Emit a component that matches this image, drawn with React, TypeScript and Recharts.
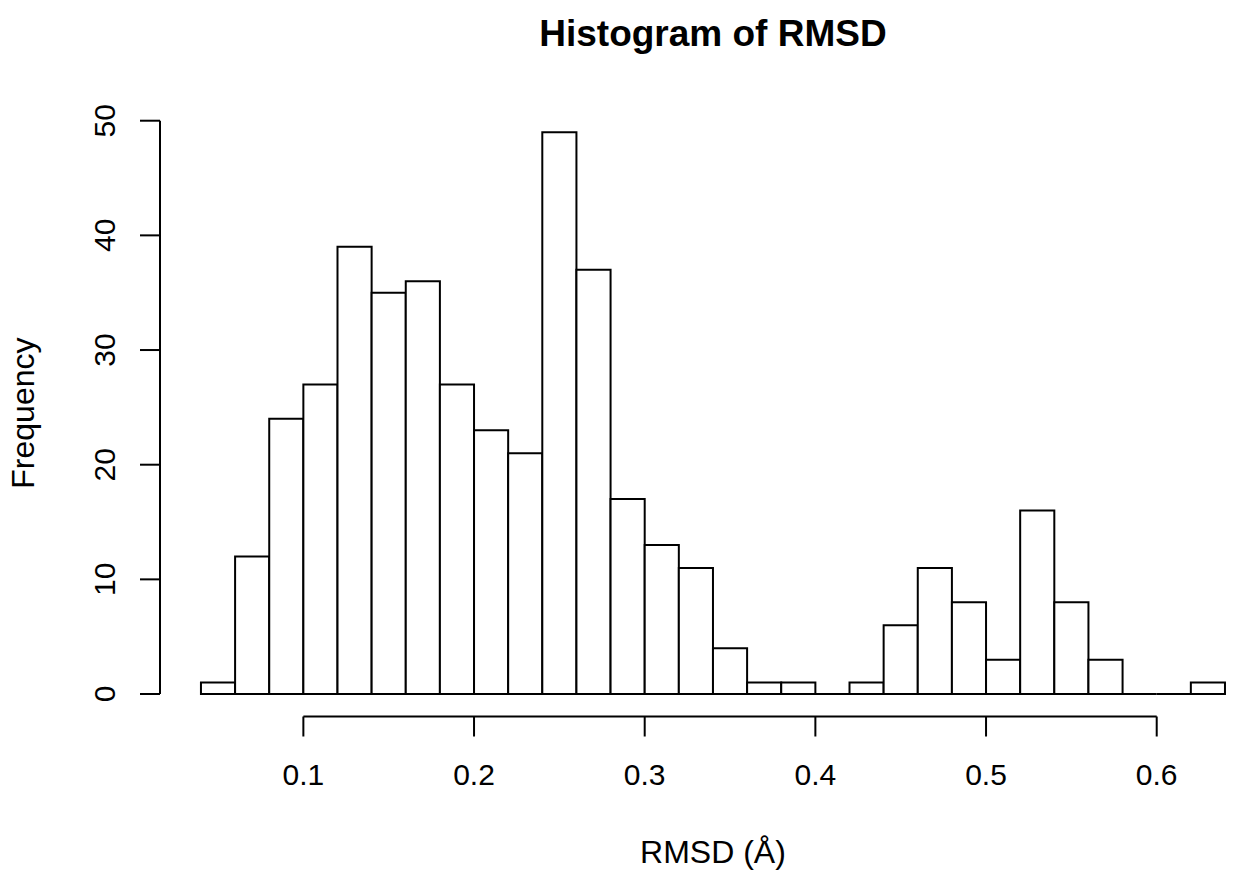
import React from 'react';
import { ComposedChart, XAxis, YAxis, ReferenceArea, ReferenceLine } from 'recharts';

const binLower = [0.04, 0.06, 0.08, 0.10, 0.12, 0.14, 0.16, 0.18, 0.20, 0.22, 0.24, 0.26, 0.28, 0.30, 0.32, 0.34, 0.36, 0.38, 0.40, 0.42, 0.44, 0.46, 0.48, 0.50, 0.52, 0.54, 0.56, 0.58, 0.60, 0.62];
const binUpper = [0.06, 0.08, 0.10, 0.12, 0.14, 0.16, 0.18, 0.20, 0.22, 0.24, 0.26, 0.28, 0.30, 0.32, 0.34, 0.36, 0.38, 0.40, 0.42, 0.44, 0.46, 0.48, 0.50, 0.52, 0.54, 0.56, 0.58, 0.60, 0.62, 0.64];
const frequency = [1, 12, 24, 27, 39, 35, 36, 27, 23, 21, 49, 37, 17, 13, 11, 4, 1, 1, 0, 1, 6, 11, 8, 3, 16, 8, 3, 0, 0, 1];
const xTicks = [0.1, 0.2, 0.3, 0.4, 0.5, 0.6];
const yTicks = [0, 10, 20, 30, 40, 50];
const titleText = 'Histogram of RMSD';
const xLabelText = 'RMSD (Å)';
const yLabelText = 'Frequency';

const W = 1233;
const H = 873;
const FONT = "'Liberation Sans', Arial, Helvetica, sans-serif";
const X_DOMAIN: [number, number] = [0.016, 0.6447];
const Y_DOMAIN: [number, number] = [-1.96, 50.96];
const MARGIN = { top: 109.7, right: 0, bottom: 16.5, left: 0 };
const Y_AXIS_W = 160;
const X_AXIS_H = 140;
const PLOT_LEFT = MARGIN.left + Y_AXIS_W;
const PLOT_RIGHT_R = 1265.9; // right edge of the original plot region (centre reference)
const PLOT_CX = (PLOT_LEFT + PLOT_RIGHT_R) / 2;
const PLOT_TOP = MARGIN.top;
const PLOT_BOTTOM = H - MARGIN.bottom - X_AXIS_H;
const PLOT_CY = (PLOT_TOP + PLOT_BOTTOM) / 2;

const bins = binLower.map((lo, i) => ({ lo, hi: binUpper[i], mid: (lo + binUpper[i]) / 2, count: frequency[i] }));

const XTick = (props: any) => {
  const { x, payload } = props;
  return (
    <text x={x} y={PLOT_BOTTOM + 68.5} textAnchor="middle" fontFamily={FONT} fontSize={30} fill="#000">
      {String(payload.value)}
    </text>
  );
};

const YTick = (props: any) => {
  const { y, payload } = props;
  const bx = PLOT_LEFT - 45.5;
  return (
    <g transform={`translate(${bx},${y}) rotate(-90)`}>
      <text x={0} y={0} textAnchor="middle" fontFamily={FONT} fontSize={30} fill="#000">
        {String(payload.value)}
      </text>
    </g>
  );
};

const XLabel = () => (
  <text x={PLOT_CX} y={PLOT_BOTTOM + 146} textAnchor="middle" fontFamily={FONT} fontSize={32} fill="#000">
    {xLabelText}
  </text>
);

const YLabel = () => (
  <g transform={`translate(${34},${PLOT_CY}) rotate(-90)`}>
    <text x={0} y={0} textAnchor="middle" fontFamily={FONT} fontSize={32} fill="#000">
      {yLabelText}
    </text>
  </g>
);

export default function App() {
  return (
    <div style={{ position: 'absolute', left: 0, top: 0, width: W, height: H, background: '#fff', overflow: 'hidden' }}>
      <ComposedChart width={W} height={H} data={bins} margin={MARGIN}>
        <XAxis
          type="number"
          dataKey="mid"
          domain={X_DOMAIN}
          allowDataOverflow
          ticks={xTicks}
          interval={0}
          height={X_AXIS_H}
          axisLine={false}
          tickSize={20}
          tickLine={{ stroke: '#000', strokeWidth: 2 }}
          tick={<XTick />}
          label={{ value: xLabelText, content: () => <XLabel /> }}
        />
        <YAxis
          type="number"
          dataKey="count"
          domain={Y_DOMAIN}
          allowDataOverflow
          ticks={yTicks}
          interval={0}
          width={Y_AXIS_W}
          axisLine={false}
          tickSize={20}
          tickLine={{ stroke: '#000', strokeWidth: 2 }}
          tick={<YTick />}
          label={{ value: yLabelText, content: () => <YLabel /> }}
        />
        {bins.map((b, i) =>
          b.count > 0 ? (
            <ReferenceArea
              key={`bar-${i}`}
              x1={b.lo}
              x2={b.hi}
              y1={0}
              y2={b.count}
              fill="#ffffff"
              fillOpacity={1}
              stroke="#000"
              strokeWidth={2}
              strokeOpacity={1}
              ifOverflow="visible"
            />
          ) : (
            <ReferenceLine
              key={`zero-${i}`}
              segment={[{ x: b.lo, y: 0 }, { x: b.hi, y: 0 }]}
              stroke="#000"
              strokeWidth={2}
              ifOverflow="visible"
            />
          )
        )}
        <ReferenceLine
          segment={[{ x: xTicks[0], y: Y_DOMAIN[0] }, { x: xTicks[xTicks.length - 1], y: Y_DOMAIN[0] }]}
          stroke="#000"
          strokeWidth={2}
          ifOverflow="visible"
        />
        <ReferenceLine
          segment={[{ x: X_DOMAIN[0], y: yTicks[0] }, { x: X_DOMAIN[0], y: yTicks[yTicks.length - 1] }]}
          stroke="#000"
          strokeWidth={2}
          ifOverflow="visible"
        />
      </ComposedChart>
      <svg width={W} height={H} style={{ position: 'absolute', left: 0, top: 0, pointerEvents: 'none' }}>
        <text x={PLOT_CX} y={46} textAnchor="middle" fontFamily={FONT} fontSize={37} fontWeight="bold" fill="#000">
          {titleText}
        </text>
      </svg>
    </div>
  );
}
